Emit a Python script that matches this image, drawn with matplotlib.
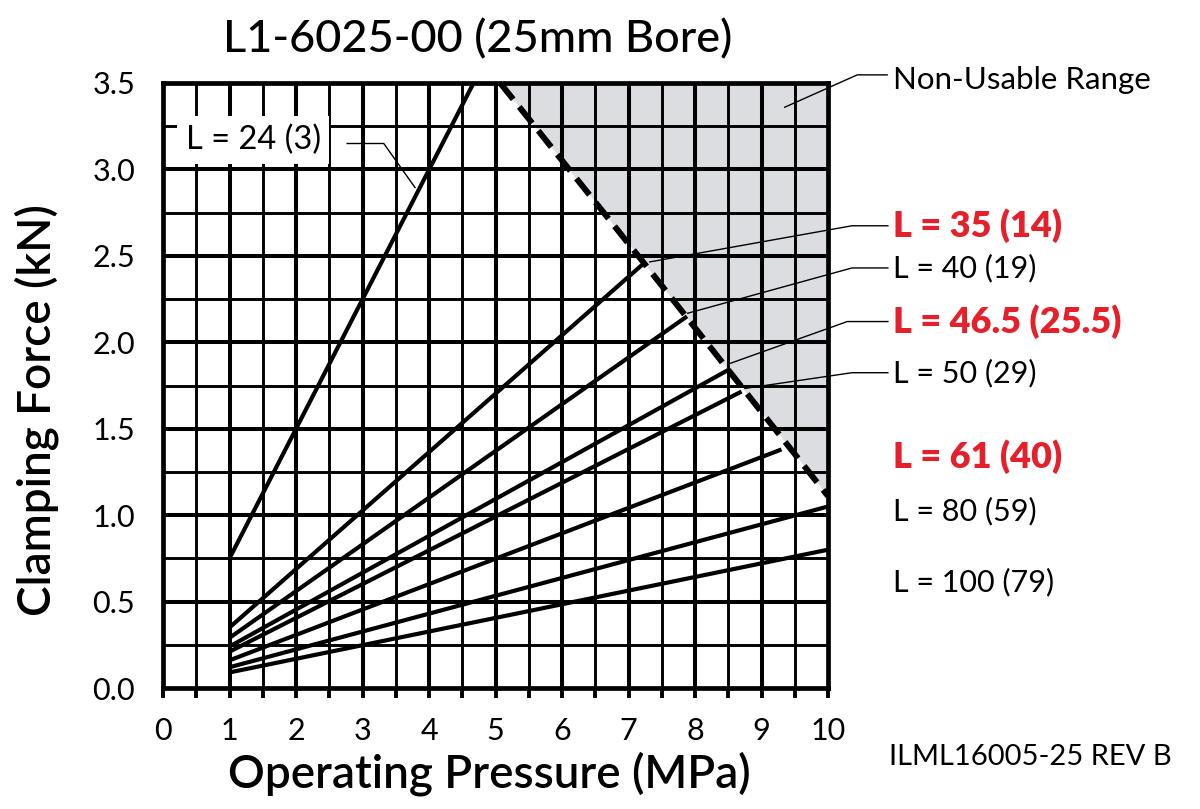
import numpy as np
import matplotlib
matplotlib.use("Agg")
import matplotlib.pyplot as plt

plt.rcParams['font.family'] = ['Lato', 'DejaVu Sans']
plt.rcParams['lines.scale_dashes'] = False

# curve labels and values (pressure MPa, force kN)
labels = ["L = 24 (3)", "L = 35 (14)", "L = 40 (19)", "L = 46.5 (25.5)",
          "L = 50 (29)", "L = 61 (40)", "L = 80 (59)", "L = 100 (79)"]
highlight = [False, True, False, True, False, True, False, False]
p_start = [1, 1, 1, 1, 1, 1, 1, 1]
f_start = [0.75, 0.35, 0.29, 0.24, 0.21, 0.16, 0.12, 0.09]
p_end = [4.67, 7.24, 7.88, 8.5, 8.7, 9.3, 10, 10]
f_end = [3.5, 2.46, 2.15, 1.84, 1.715, 1.38, 1.05, 0.80]

# limit line (dashed) bounding the non-usable range
limit_p = [5.07, 7.25, 8.5, 10.0]
limit_f = [3.5, 2.45, 1.84, 1.11]

# label heights (kN units)
label_y = [3.17, 2.674, 2.43, 2.12, 1.824, 1.337, 1.023, 0.61]

red = '#e5202a'

fig = plt.figure(figsize=(12, 8.09), dpi=100)
ax = fig.add_axes([163/1200, 1-688/809, (828-163)/1200, (688-83)/809])
ax.set_xlim(0, 10)
ax.set_ylim(0, 3.5)

# non-usable shaded area
poly_x = limit_p + [10, limit_p[0]]
poly_y = limit_f + [3.5, 3.5]
ax.fill(poly_x, poly_y, color='#dcdde0', lw=0, zorder=0.5)

# grid
for x in np.arange(0.5, 10, 0.5):
    lw = 2.9 if x % 1 == 0 else 2.1
    ax.axvline(x, color='black', lw=lw, zorder=1)
for y in np.arange(0.25, 3.5, 0.25):
    lw = 2.9 if (y * 2) % 1 == 0 else 2.1
    ax.axhline(y, color='black', lw=lw, zorder=1)

for s in ax.spines.values():
    s.set_linewidth(3.4)
    s.set_zorder(6)

# curves
for i in range(len(labels)):
    ax.plot([p_start[i], p_end[i]], [f_start[i], f_end[i]], color='black',
            lw=3.0, solid_capstyle='butt', zorder=3)

ax.plot(limit_p, limit_f, color='black', lw=4.3, dashes=(15, 7),
        dash_capstyle='butt', zorder=4)

ax.set_xticks(np.arange(0, 11, 1))
ax.set_xticks(np.arange(0, 10.5, 0.5), minor=True)
ax.set_yticks(np.arange(0, 3.51, 0.5))
ax.set_yticklabels([f"{v:.1f}" for v in np.arange(0, 3.51, 0.5)])
ax.tick_params(axis='x', which='both', direction='out', length=7, width=2.8,
               labelsize=22, pad=14)
ax.tick_params(axis='y', which='both', length=0, labelsize=22, pad=20)

ax.set_xlabel("Operating Pressure (MPa)", fontsize=33, fontweight='semibold')
ax.xaxis.set_label_coords(0.49, -0.105)
ax.set_ylabel("Clamping Force (kN)", fontsize=33, fontweight='semibold')
ax.yaxis.set_label_coords(-0.157, 0.46)
fig.text(478/1200, 1-40/809, "L1-6025-00 (25mm Bore)", fontsize=32.5,
         fontweight='medium', ha='center', va='center')

# first curve label sits inside the grid
ax.text(1.36, label_y[0], labels[0], fontsize=23.5,
        ha='center', va='center', zorder=5,
        bbox=dict(fc='white', ec='none', pad=6))
ax.plot([2.77, 3.32, 3.79], [3.15, 3.15, 2.895], color='black', lw=1.0,
        zorder=5)

# labels on the right
for i in range(1, len(labels)):
    ax.text(10.98, label_y[i], labels[i],
            fontsize=26 if highlight[i] else 22,
            fontweight='heavy' if highlight[i] else 'normal',
            color=red if highlight[i] else 'black',
            ha='left', va='center', clip_on=False)

# leader lines for labels 35..50
lead_elbow = [10.36, 10.36, 10.29, 10.36]
lead_tip_x = [7.32, 7.89, 8.53, 8.75]
lead_tip_y = [2.465, 2.168, 1.878, 1.733]
for k in range(4):
    yy = label_y[k + 1]
    ax.plot([10.9, lead_elbow[k], lead_tip_x[k]], [yy, yy, lead_tip_y[k]],
            color='black', lw=1.0, clip_on=False, zorder=5)

ax.text(10.98, 3.517, "Non-Usable Range", fontsize=22.5,
        ha='left', va='center', clip_on=False)
ax.plot([10.89, 10.44, 9.35], [3.547, 3.547, 3.36], color='black', lw=1.0,
        clip_on=False, zorder=5)

fig.text(1172/1200, 1-757/809, "ILML16005-25 REV B", fontsize=21,
         ha='right', va='center')

fig.savefig('out.png', dpi=100)
